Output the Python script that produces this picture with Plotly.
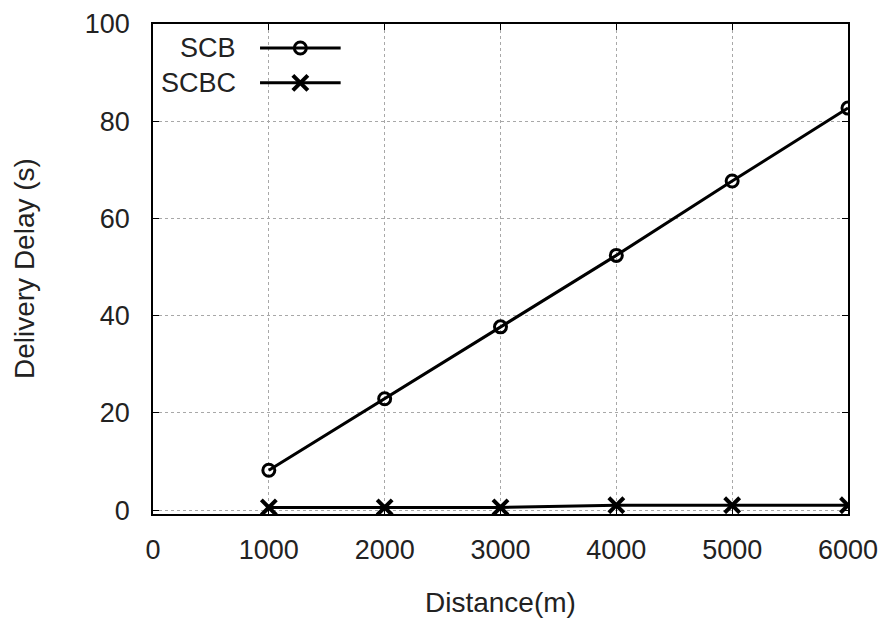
import plotly.graph_objects as go

distance = [1000, 2000, 3000, 4000, 5000, 6000]
scb = [8.2, 22.9, 37.7, 52.4, 67.7, 82.7]
scbc = [0.55, 0.55, 0.55, 1.0, 1.0, 1.0]
series_names = ["SCB", "SCBC"]
x_ticks = [0, 1000, 2000, 3000, 4000, 5000, 6000]
y_ticks = [0, 20, 40, 60, 80, 100]

FONT = "Liberation Sans, Arial, sans-serif"
TXT = "#222222"
TICK_SIZE = 27
TITLE_SIZE = 28

fig = go.Figure()
fig.add_trace(go.Scatter(
    x=distance, y=scb, mode="lines+markers", name=series_names[0],
    line=dict(color="black", width=3),
    marker=dict(symbol="circle-open", size=12, color="black", line=dict(width=3)),
    showlegend=False,
))
fig.add_trace(go.Scatter(
    x=distance, y=scbc, mode="lines+markers", name=series_names[1],
    line=dict(color="black", width=3),
    marker=dict(symbol="x-thin-open", size=15, color="black", line=dict(width=4)),
    showlegend=False,
))

# legend samples drawn on an auxiliary overlay axis (0..1 of the plot area)
leg_y = [0.951, 0.880]
leg_x = [0.154, 0.270]
fig.add_trace(go.Scatter(x=leg_x, y=[leg_y[0]] * 2, mode="lines", xaxis="x2", yaxis="y2",
                         line=dict(color="black", width=3), showlegend=False, hoverinfo="skip"))
fig.add_trace(go.Scatter(x=[sum(leg_x) / 2], y=[leg_y[0]], mode="markers", xaxis="x2", yaxis="y2",
                         marker=dict(symbol="circle-open", size=12, color="black", line=dict(width=3)),
                         showlegend=False, hoverinfo="skip"))
fig.add_trace(go.Scatter(x=leg_x, y=[leg_y[1]] * 2, mode="lines", xaxis="x2", yaxis="y2",
                         line=dict(color="black", width=3), showlegend=False, hoverinfo="skip"))
fig.add_trace(go.Scatter(x=[sum(leg_x) / 2], y=[leg_y[1]], mode="markers", xaxis="x2", yaxis="y2",
                         marker=dict(symbol="x-thin-open", size=15, color="black", line=dict(width=4)),
                         showlegend=False, hoverinfo="skip"))

for name, yy in zip(series_names, leg_y):
    fig.add_annotation(text=name, xref="paper", yref="paper", x=0.122, y=yy,
                       xanchor="right", yanchor="middle", showarrow=False,
                       font=dict(family=FONT, size=TICK_SIZE, color=TXT))

# axis titles
fig.add_annotation(text="Distance(m)", xref="paper", yref="paper", x=0.5, y=-0.181,
                   xanchor="center", yanchor="middle", showarrow=False,
                   font=dict(family=FONT, size=TITLE_SIZE, color=TXT))
fig.add_annotation(text="Delivery Delay (s)", xref="paper", yref="paper", x=-0.1856, y=0.5,
                   xanchor="center", yanchor="middle", showarrow=False, textangle=-90,
                   font=dict(family=FONT, size=TITLE_SIZE, color=TXT))

axis_common = dict(
    showline=True, linecolor="black", linewidth=1.5, mirror="allticks",
    ticks="inside", ticklen=6, tickcolor="black", tickwidth=1,
    showgrid=True, gridcolor="#a8a8a8", griddash="dot", gridwidth=1,
    zeroline=False, automargin=False,
    tickfont=dict(family=FONT, size=TICK_SIZE, color=TXT),
)

fig.update_layout(
    width=882, height=619,
    margin=dict(l=153, r=34, t=24, b=105),
    paper_bgcolor="white", plot_bgcolor="white",
    xaxis=dict(range=[0, 6000], tickvals=x_ticks, ticktext=[str(v) for v in x_ticks],
               ticklabelstandoff=11, **axis_common),
    yaxis=dict(range=[-0.8, 100], tickvals=y_ticks, ticktext=[str(v) for v in y_ticks],
               ticklabelstandoff=16, **axis_common),
    xaxis2=dict(range=[0, 1], overlaying="x", visible=False, fixedrange=True),
    yaxis2=dict(range=[0, 1], overlaying="y", visible=False, fixedrange=True),
    showlegend=False,
)

fig.write_html(
    "out.html",
    config={"displayModeBar": False},
    post_script="document.body.style.margin='0';document.body.style.overflow='hidden';",
)
